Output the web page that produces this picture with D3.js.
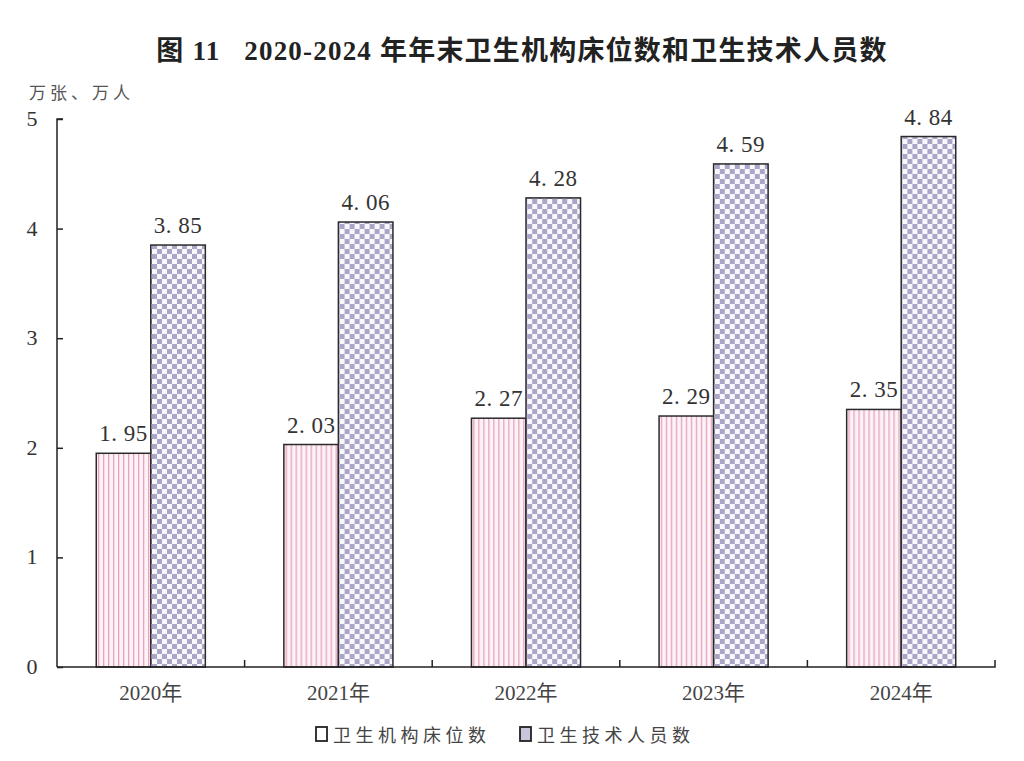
<!DOCTYPE html>
<html>
<head>
<meta charset="utf-8">
<script src="https://cdn.jsdelivr.net/npm/d3@7"></script>
<style>
  body { margin: 0; background: #fff; }
  text { font-family: "Liberation Serif", "DejaVu Serif", "Noto Sans CJK SC", serif; fill: #333; }
</style>
</head>
<body>
<div id="chart"></div>
<script>
var years = ["2020年", "2021年", "2022年", "2023年", "2024年"];
var seriesNames = ["卫生机构床位数", "卫生技术人员数"];
var beds = [1.95, 2.03, 2.27, 2.29, 2.35];
var staff = [3.85, 4.06, 4.28, 4.59, 4.84];
var yTicks = [0, 1, 2, 3, 4, 5];

var W = 1024, H = 761;
var margin = {top: 119, right: 29, bottom: 94, left: 57},
    width = W - margin.left - margin.right,
    height = H - margin.top - margin.bottom;

var svg = d3.select("#chart").append("svg")
    .attr("width", W)
    .attr("height", H);

// fill patterns
var defs = svg.append("defs");
var stripe = defs.append("pattern")
    .attr("id", "stripe")
    .attr("patternUnits", "userSpaceOnUse")
    .attr("width", 5).attr("height", 5);
stripe.append("rect").attr("width", 5).attr("height", 5).attr("fill", "#fdf3f7");
stripe.append("rect").attr("x", 1).attr("width", 1.3).attr("height", 5).attr("fill", "#e6a3c0");

var checker = defs.append("pattern")
    .attr("id", "checker")
    .attr("patternUnits", "userSpaceOnUse")
    .attr("width", 10).attr("height", 10);
checker.append("rect").attr("width", 10).attr("height", 10).attr("fill", "#f8f7fc");
checker.append("rect").attr("width", 5).attr("height", 5).attr("fill", "#aba6c8");
checker.append("rect").attr("x", 5).attr("y", 5).attr("width", 5).attr("height", 5).attr("fill", "#aba6c8");

var fills = ["url(#stripe)", "url(#checker)"];

var g = svg.append("g")
    .attr("transform", "translate(" + margin.left + "," + margin.top + ")");

// scales
var x = d3.scaleBand()
    .domain(years)
    .range([0, width])
    .padding(0);
var x1 = d3.scaleBand()
    .domain(seriesNames)
    .range([0, x.bandwidth()])
    .paddingInner(0)
    .paddingOuter(0.72);
var y = d3.scaleLinear()
    .domain([0, 5])
    .range([height, 0]);

// title
svg.append("text")
    .attr("x", 522)
    .attr("y", 60)
    .attr("text-anchor", "middle")
    .style("font-size", "27px")
    .style("font-weight", "bold")
    .style("letter-spacing", "1.2px")
    .style("fill", "#222")
    .text("图 11\u00a0\u00a0\u00a02020-2024 年年末卫生机构床位数和卫生技术人员数");

// unit label
svg.append("text")
    .attr("x", 29)
    .attr("y", 99)
    .style("font-size", "17px")
    .style("letter-spacing", "4px")
    .style("fill", "#555")
    .text("万张、万人");

// y axis
var yAxis = g.append("g")
    .call(d3.axisRight(y).tickValues(yTicks).tickSize(6).tickFormat(""));
yAxis.select(".domain").attr("d", "M6,0H0V" + height).attr("stroke", "#222").attr("stroke-width", 1.5);
yAxis.selectAll(".tick line").attr("stroke", "#222").attr("stroke-width", 1.5);

g.selectAll(".ylab")
    .data(yTicks)
    .enter().append("text")
    .attr("class", "ylab")
    .attr("x", -25)
    .attr("y", function (d) { return y(d) + 7; })
    .attr("text-anchor", "middle")
    .style("font-size", "22px")
    .text(function (d) { return d; });

// bars
var groups = g.selectAll(".year")
    .data(years)
    .enter().append("g")
    .attr("class", "year")
    .attr("transform", function (d) { return "translate(" + x(d) + ",0)"; });

groups.selectAll("rect")
    .data(function (d, i) {
        return [{s: seriesNames[0], v: beds[i], k: 0}, {s: seriesNames[1], v: staff[i], k: 1}];
    })
    .enter().append("rect")
    .attr("x", function (d) { return x1(d.s); })
    .attr("y", function (d) { return y(d.v); })
    .attr("width", x1.bandwidth())
    .attr("height", function (d) { return height - y(d.v); })
    .attr("fill", function (d) { return fills[d.k]; })
    .attr("stroke", "#2a2a2a")
    .attr("stroke-width", 1.5);

groups.selectAll(".val")
    .data(function (d, i) {
        return [{s: seriesNames[0], v: beds[i]}, {s: seriesNames[1], v: staff[i]}];
    })
    .enter().append("text")
    .attr("class", "val")
    .attr("x", function (d) { return x1(d.s) + x1.bandwidth() / 2; })
    .attr("y", function (d) { return y(d.v) - 12; })
    .attr("text-anchor", "middle")
    .style("font-size", "23px")
    .style("letter-spacing", "0.5px")
    .text(function (d) { return d.v.toFixed(2).replace(".", ". "); });

// x axis
var xAxis = g.append("g")
    .attr("transform", "translate(0," + height + ")")
    .call(d3.axisBottom(x).tickSize(0).tickFormat(""));
xAxis.select(".domain").attr("stroke", "#222").attr("stroke-width", 1.5)
    .attr("d", "M0,0H" + width + "V-7");
g.selectAll(".xtick")
    .data(years.slice(1))
    .enter().append("line")
    .attr("class", "xtick")
    .attr("x1", function (d) { return x(d); })
    .attr("x2", function (d) { return x(d); })
    .attr("y1", height)
    .attr("y2", height - 7)
    .attr("stroke", "#222")
    .attr("stroke-width", 1.5);

g.selectAll(".xlab")
    .data(years)
    .enter().append("text")
    .attr("class", "xlab")
    .attr("x", function (d) { return x(d) + x.bandwidth() / 2; })
    .attr("y", height + 33)
    .attr("text-anchor", "middle")
    .style("font-size", "21px")
    .style("fill", "#444")
    .text(function (d) { return d; });

// legend
var legendX = [316, 520];
var legend = svg.selectAll(".legend")
    .data(seriesNames)
    .enter().append("g")
    .attr("class", "legend")
    .attr("transform", function (d, i) { return "translate(" + legendX[i] + ",727)"; });
legend.append("rect")
    .attr("width", 11).attr("height", 14)
    .attr("fill", function (d, i) { return i === 0 ? "#fff" : "#c9c6dc"; })
    .attr("stroke", "#222").attr("stroke-width", 1.8);
legend.append("text")
    .attr("x", 17)
    .attr("y", 15)
    .style("font-size", "18px")
    .style("letter-spacing", "4.5px")
    .style("fill", "#444")
    .text(function (d) { return d; });
</script>
</body>
</html>
